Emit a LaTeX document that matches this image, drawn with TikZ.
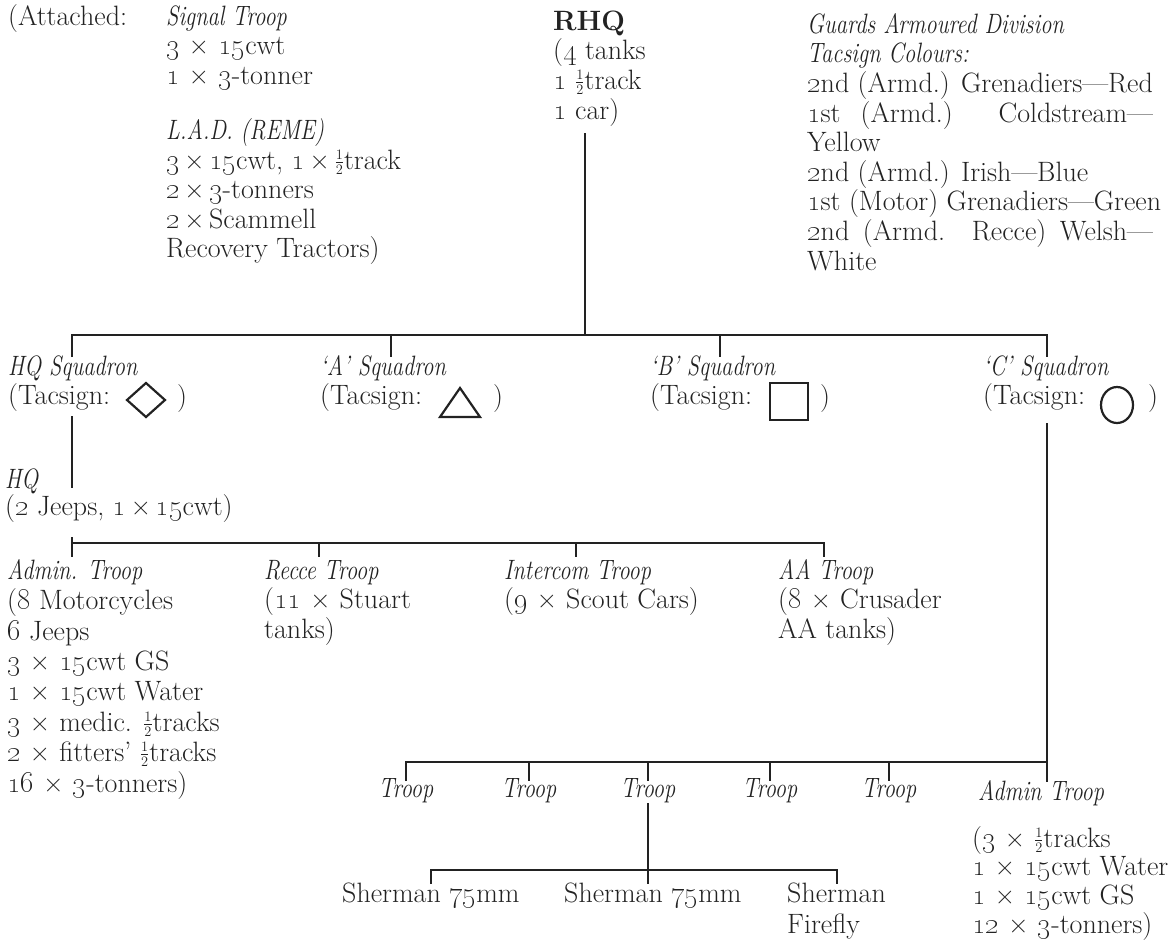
\documentclass[tikz,border=0pt]{standalone}
\usepackage{graphicx}
\usetikzlibrary{shapes.geometric}
\definecolor{ink}{HTML}{222222}
\newcommand\fs{\fontsize{28}{29.6}\selectfont}
\newcommand\os[1]{\oldstylenums{#1}}
\newcommand\X{\hspace{0.33em}×\hspace{0.33em}}
\newcommand\xx{\,×\,}
\newcommand\hf{\smash{\raisebox{0.15ex}{$\scriptstyle\frac{1}{2}$}}}
\newcommand\st{\rule{0pt}{22pt}}
\newcommand\ital[1]{\scalebox{0.8}[1]{\fontsize{28}{29.6}\selectfont\itshape #1}}
\newlength\gw
\begin{document}
\settowidth\gw{\fs \os{2}nd (Armd.) Grenadiers---Red}
\begin{tikzpicture}[x=1pt,y=-1pt,
  txt/.style={anchor=north west, inner sep=0pt, align=left, font=\fs, text=ink},
  ctxt/.style={anchor=base, inner sep=0pt, font=\fs, text=ink},
  conn/.style={draw=ink, line width=1.1pt},
  sym/.style={draw=ink, line width=2.2pt, line join=miter}]
\useasboundingbox (0,0) rectangle (1170,943);

% ---------- top ----------
\node[txt] (att) at (8,3) {\st(Attached:};
\node[txt] (sig) at (166,3) {\st\ital{Signal Troop}\\
  \os{3}\X\os{15}cwt\\
  \os{1}\X\os{3}-tonner\\[25.5pt]
  \ital{L.A.D. (REME)}\\
  \os{3}\xx\os{15}cwt, \os{1}\xx\hf track\\
  \os{2}\xx\os{3}-tonners\\
  \os{2}\xx Scammell\\
  Recovery Tractors)};
\node[txt] (rhq) at (553,8) {\st\textbf{RHQ}\\
  (\os{4} tanks\\
  \os{1} \hf track\\
  \os{1} car)};
\node[txt] (gua) at (807,11) {\st\ital{Guards Armoured Division}\\
  \ital{Tacsign Colours:}\\
  \os{2}nd (Armd.) Grenadiers---Red\\
  \makebox[\gw][s]{\os{1}st (Armd.) Coldstream---}\\
  Yellow\\
  \os{2}nd (Armd.) Irish---Blue\\
  \os{1}st (Motor) Grenadiers---Green\\
  \makebox[\gw][s]{\os{2}nd (Armd. Recce) Welsh---}\\
  White};

% ---------- squadrons ----------
\node[txt] (hqs) at (8,353) {\st\ital{HQ Squadron}\\(Tacsign:};
\node[txt] (asq) at (320,353) {\st\ital{‘A’ Squadron}\\(Tacsign:};
\node[txt] (bsq) at (650,353) {\st\ital{‘B’ Squadron}\\(Tacsign:};
\node[txt] (csq) at (983,353) {\st\ital{‘C’ Squadron}\\(Tacsign:};
\node[ctxt] (hqp) at (182,405) {)};
\node[ctxt] (ap) at (498,405) {)};
\node[ctxt] (bp) at (825,405) {)};
\node[ctxt] (cp) at (1153,405) {)};
% tacsigns
\draw[sym] (146,383) -- (165,400) -- (146,417) -- (127,400) -- cycle;
\draw[sym] (440,417) -- (480,417) -- (460,388) -- cycle;
\draw[sym] (770,383) rectangle (808,420);
\draw[sym] (1117,405) ellipse [x radius=16, y radius=18];

% ---------- HQ squadron breakdown ----------
\node[txt] (hq) at (5,466) {\st\ital{HQ}\\[-2pt](\os{2} Jeeps, \os{1}\xx\os{15}cwt)};
\node[txt, font=\fontsize{28}{30.4}\selectfont] (adm) at (7,557) {\st\ital{Admin. Troop}\\
  (\os{8} Motorcycles\\
  \os{6} Jeeps\\
  \os{3}\X\os{15}cwt GS\\
  \os{1}\X\os{15}cwt Water\\
  \os{3}\X medic. \hf tracks\\
  \os{2}\X fitters’ \hf tracks\\
  \os{16}\X\os{3}-tonners)};
\node[txt] (rec) at (264,557) {\st\ital{Recce Troop}\\(\os{11}\X Stuart\\tanks)};
\node[txt] (itc) at (504,557) {\st\ital{Intercom Troop}\\(\os{9}\X Scout Cars)};
\node[txt] (aat) at (778,557) {\st\ital{AA Troop}\\(\os{8}\X Crusader\\AA tanks)};

% ---------- C squadron breakdown ----------
\node[ctxt] (t1) at (406,797) {\ital{Troop}};
\node[ctxt] (t2) at (529,797) {\ital{Troop}};
\node[ctxt] (t3) at (648,797) {\ital{Troop}};
\node[ctxt] (t4) at (770,797) {\ital{Troop}};
\node[ctxt] (t5) at (889,797) {\ital{Troop}};
\node[txt] (cadm) at (978,778) {\st\ital{Admin Troop}};
\node[txt, font=\fontsize{28}{28.7}\selectfont] (clist) at (972,825) {\st(\os{3}\X\hf tracks\\
  \os{1}\X\os{15}cwt Water\\
  \os{1}\X\os{15}cwt GS\\
  \os{12}\X\os{3}-tonners)};
\node[txt] (s1) at (342,880) {\st Sherman \os{75}mm};
\node[txt] (s2) at (564,880) {\st Sherman \os{75}mm};
\node[txt, font=\fontsize{28}{31}\selectfont] (s3) at (787,880) {\st Sherman\\Firefly};

% ---------- connector points ----------
\coordinate (rhqb) at (585,133);
\coordinate (b1) at (585,335);
\coordinate (hqsT) at (72,357);
\coordinate (hqsJ) at (72,335);
\coordinate (aT) at (391,357);
\coordinate (aJ) at (391,335);
\coordinate (bT) at (720,357);
\coordinate (bJ) at (720,335);
\coordinate (cJ) at (1047,335);
\coordinate (cT) at (1047,357);
\coordinate (hqsB) at (72,416);
\coordinate (hqT) at (72,488);
\coordinate (hqB) at (72,537);
\coordinate (h2L) at (72,543);
\coordinate (admT) at (72,557);
\coordinate (recJ) at (319,543);
\coordinate (recT) at (319,557);
\coordinate (itcJ) at (576,543);
\coordinate (itcT) at (576,557);
\coordinate (aaJ) at (824,543);
\coordinate (aaT) at (824,557);
\coordinate (csqB) at (1047,423);
\coordinate (cadmJ) at (1047,762);
\coordinate (cadmT) at (1047,782);
\coordinate (t1J) at (406,762);
\coordinate (t1T) at (406,781);
\coordinate (t2J) at (529,762);
\coordinate (t2T) at (529,781);
\coordinate (t3J) at (648,762);
\coordinate (t3T) at (648,781);
\coordinate (t4J) at (770,762);
\coordinate (t4T) at (770,781);
\coordinate (t5J) at (889,762);
\coordinate (t5T) at (889,781);
\coordinate (t3B) at (648,803);
\coordinate (sJ) at (648,870);
\coordinate (s2T) at (648,884);
\coordinate (s1J) at (431,870);
\coordinate (s1T) at (431,884);
\coordinate (s3J) at (837,870);
\coordinate (s3T) at (837,884);

% ---------- connectors ----------
\draw[conn] (rhqb) -- (b1);
\draw[conn] (hqsT) -- (hqsJ) -- (cJ) -- (cT);
\draw[conn] (aJ) -- (aT);
\draw[conn] (bJ) -- (bT);
\draw[conn] (hqsB) -- (hqT);
\draw[conn] (hqB) -- (admT);
\draw[conn] (h2L) -- (aaJ) -- (aaT);
\draw[conn] (recJ) -- (recT);
\draw[conn] (itcJ) -- (itcT);
\draw[conn] (csqB) -- (cadmT);
\draw[conn] (t1T) -- (t1J) -- (cadmJ);
\draw[conn] (t2J) -- (t2T);
\draw[conn] (t3J) -- (t3T);
\draw[conn] (t4J) -- (t4T);
\draw[conn] (t5J) -- (t5T);
\draw[conn] (t3B) -- (s2T);
\draw[conn] (s1T) -- (s1J) -- (s3J) -- (s3T);
\end{tikzpicture}
\end{document}
